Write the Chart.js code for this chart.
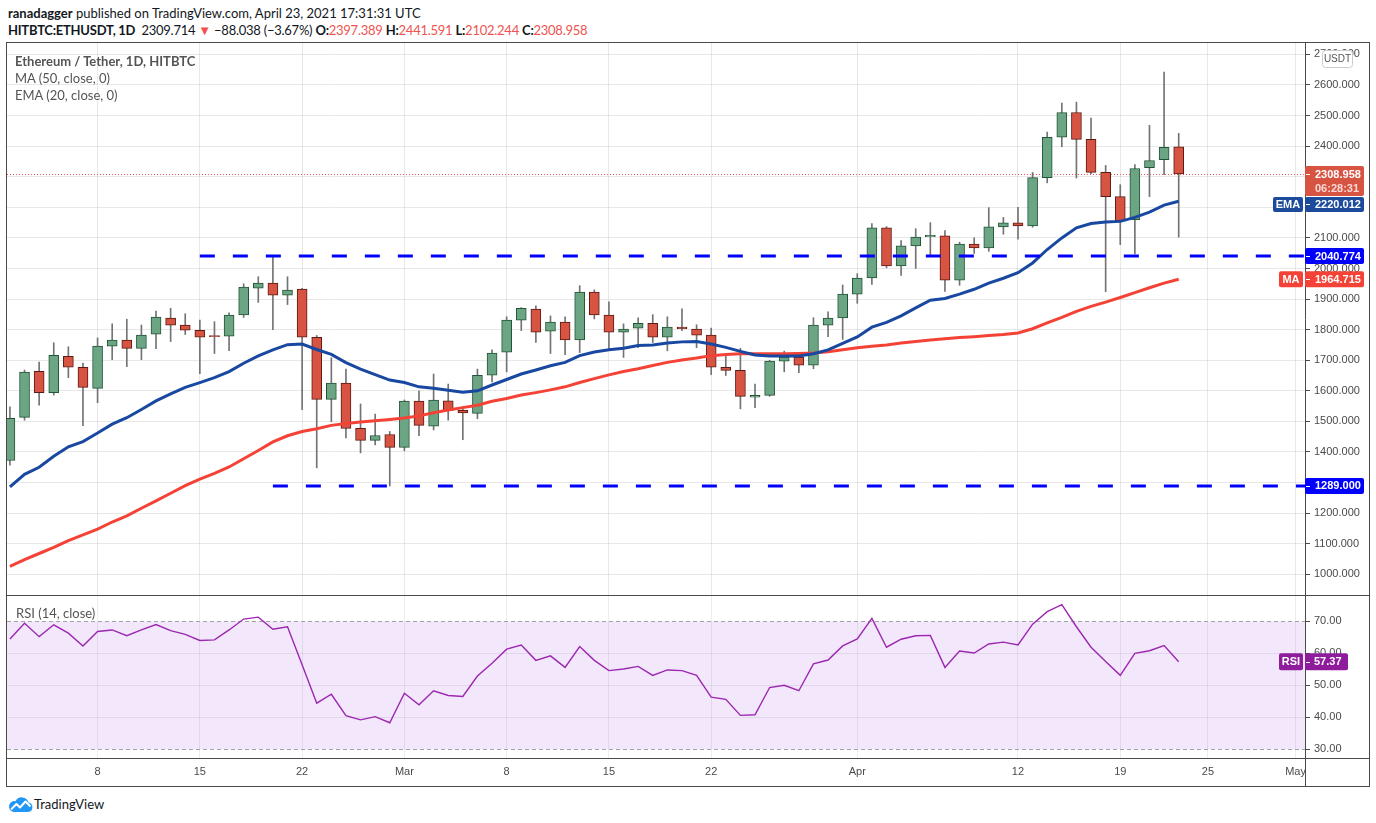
<!DOCTYPE html>
<html>
<head>
<meta charset="utf-8">
<title>Ethereum / Tether, 1D, HITBTC</title>
<script src="https://cdn.jsdelivr.net/npm/chart.js@4.4.1/dist/chart.umd.min.js"></script>
<style>
  html, body { margin:0; padding:0; background:#ffffff; }
  body { width:1376px; height:823px; position:relative; overflow:hidden; font-family: Lato, "Open Sans", sans-serif; }
  .abs { position:absolute; }
  #hdr1 { left:8px; top:4px; font-size:13px; line-height:18px; color:#131722; white-space:nowrap; }
  #hdr2 { left:8px; top:21px; font-size:13px; line-height:18px; color:#131722; white-space:nowrap; letter-spacing:-0.25px; }
  .r { color:#ef5350; }
  #frame { left:6px; top:42px; width:1362px; height:743px; border:1px solid #4a4a4a; }
  #cMain { left:7px; top:43px; }
  #cRsi { left:7px; top:596px; }
  #sep { left:7px; top:595px; width:1362px; height:1px; background:#4a4a4a; }
  #sep2 { left:7px; top:758px; width:1362px; height:1px; background:#4a4a4a; }
  #vline { left:1305px; top:758px; width:1px; height:28px; background:#4a4a4a; }
  .leg { left:15px; font-size:13px; line-height:16px; color:#555555; white-space:nowrap; }
  #logoTxt { left:34px; top:796px; font-size:13px; line-height:16px; color:#131722; white-space:nowrap; }
  #logoIcon { left:8px; top:795px; }
</style>
</head>
<body>
<div id="hdr1" class="abs"><b>ranadagger</b> published on TradingView.com, April 23, 2021 17:31:31 UTC</div>
<div id="hdr2" class="abs"><b>HITBTC:ETHUSDT, 1D</b>&nbsp; 2309.714 <span class="r">▼</span> −88.038 (−3.67%) <b>O:</b><span class="r">2397.389</span> <b>H:</b><span class="r">2441.591</span> <b>L:</b><span class="r">2102.244</span> <b>C:</b><span class="r">2308.958</span></div>

<div id="frame" class="abs"></div>
<canvas id="cMain" class="abs" width="1362" height="552" style="width:1362px;height:552px"></canvas>
<canvas id="cRsi" class="abs" width="1362" height="190" style="width:1362px;height:190px"></canvas>
<div id="sep" class="abs"></div>
<div id="sep2" class="abs"></div>
<div id="vline" class="abs"></div>

<div class="abs leg" style="top:53px;font-weight:bold;">Ethereum / Tether, 1D, HITBTC</div>
<div class="abs leg" style="top:70px;">MA (50, close, 0)</div>
<div class="abs leg" style="top:87px;">EMA (20, close, 0)</div>
<div class="abs leg" style="top:605px;left:16px;">RSI (14, close)</div>

<svg id="logoIcon" class="abs" width="25" height="18" viewBox="0 0 25 18">
  <path d="M5.5 17 H20 A4.8 4.8 0 0 0 20.5 7.5 A7 7 0 0 0 7.5 6.2 A5.4 5.4 0 0 0 5.5 17 Z" fill="#2196f3"/>
  <polyline points="3,14.5 8.5,9 12,12.5 17.5,6.5 22.5,11.5" stroke="#ffffff" stroke-width="2" fill="none" stroke-linejoin="round"/>
</svg>
<div id="logoTxt" class="abs">TradingView</div>

<script>
// ---------------- DATA ----------------
const dates = [
 '2021-02-02','2021-02-03','2021-02-04','2021-02-05','2021-02-06','2021-02-07','2021-02-08','2021-02-09','2021-02-10','2021-02-11',
 '2021-02-12','2021-02-13','2021-02-14','2021-02-15','2021-02-16','2021-02-17','2021-02-18','2021-02-19','2021-02-20','2021-02-21',
 '2021-02-22','2021-02-23','2021-02-24','2021-02-25','2021-02-26','2021-02-27','2021-02-28','2021-03-01','2021-03-02','2021-03-03',
 '2021-03-04','2021-03-05','2021-03-06','2021-03-07','2021-03-08','2021-03-09','2021-03-10','2021-03-11','2021-03-12','2021-03-13',
 '2021-03-14','2021-03-15','2021-03-16','2021-03-17','2021-03-18','2021-03-19','2021-03-20','2021-03-21','2021-03-22','2021-03-23',
 '2021-03-24','2021-03-25','2021-03-26','2021-03-27','2021-03-28','2021-03-29','2021-03-30','2021-03-31','2021-04-01','2021-04-02',
 '2021-04-03','2021-04-04','2021-04-05','2021-04-06','2021-04-07','2021-04-08','2021-04-09','2021-04-10','2021-04-11','2021-04-12',
 '2021-04-13','2021-04-14','2021-04-15','2021-04-16','2021-04-17','2021-04-18','2021-04-19','2021-04-20','2021-04-21','2021-04-22',
 '2021-04-23'];

const openP = [1372,1513,1664,1594,1713,1677,1608,1746,1766,1739,
 1785,1838,1815,1798,1780,1779,1848,1936,1952,1913,
 1933,1775,1572,1625,1477,1438,1457,1415,1566,1484,
 1567,1536,1526,1651,1726,1831,1867,1795,1825,1766,
 1923,1848,1792,1805,1821,1775,1808,1802,1782,1677,
 1667,1579,1585,1697,1710,1684,1815,1838,1916,1969,
 2133,2008,2074,2104,2107,1962,2080,2067,2136,2149,
 2139,2297,2429,2510,2422,2314,2235,2160,2330,2356,
 2397.389];
const highP = [1548,1668,1694,1757,1744,1691,1773,1819,1834,1815,
 1861,1870,1852,1831,1826,1855,1950,1973,2041,1973,
 1935,1781,1708,1671,1557,1524,1467,1570,1600,1655,
 1622,1548,1671,1734,1842,1872,1878,1845,1842,1944,
 1930,1891,1819,1839,1849,1842,1868,1816,1805,1722,
 1739,1622,1700,1730,1725,1839,1858,1946,1983,2147,
 2137,2091,2130,2150,2124,2086,2100,2199,2167,2200,
 2314,2446,2541,2544,2492,2337,2274,2340,2468,2642,
 2441.591];
const lowP = [1357,1504,1553,1586,1643,1486,1561,1702,1679,1702,
 1738,1761,1784,1656,1722,1731,1840,1889,1800,1882,
 1538,1348,1499,1446,1397,1423,1289,1404,1453,1472,
 1504,1440,1509,1629,1662,1797,1758,1722,1718,1725,
 1835,1733,1709,1741,1758,1731,1797,1741,1653,1650,
 1541,1545,1582,1662,1659,1672,1777,1768,1886,1948,
 2002,1977,2000,2040,1925,1945,2049,2056,2112,2096,
 2135,2280,2398,2296,2310,1924,2078,2048,2235,2307,
 2102.244];
const closeP = [1510,1661,1594,1716,1677,1611,1746,1766,1739,1782,
 1841,1815,1798,1775,1777,1848,1939,1952,1913,1929,
 1775,1572,1625,1477,1438,1454,1415,1566,1487,1570,
 1536,1528,1651,1723,1831,1870,1792,1825,1766,1923,
 1848,1792,1802,1821,1775,1808,1803,1782,1677,1667,
 1582,1585,1697,1710,1684,1815,1838,1916,1969,2133,
 2008,2074,2103,2108,1962,2080,2067,2136,2149,2139,
 2297,2429,2510,2422,2314,2235,2156,2327,2353,2396,
 2308.958];

const ema20 = [1286,1327,1350,1386,1417,1434,1462,1491,1512,1539,
 1567,1590,1611,1627,1643,1663,1690,1714,1734,1751,
 1753,1735,1719,1692,1671,1653,1635,1627,1613,1608,
 1602,1595,1600,1619,1637,1655,1668,1682,1693,1715,
 1727,1734,1739,1748,1750,1756,1760,1761,1753,1742,
 1729,1717,1714,1714,1714,1721,1734,1755,1776,1808,
 1824,1845,1871,1896,1902,1916,1932,1952,1968,1986,
 2018,2062,2100,2133,2147,2152,2154,2167,2184,2207,
 2220.012];
const ma50 = [1026,1048,1068,1088,1110,1129,1148,1171,1191,1216,
 1240,1265,1290,1311,1330,1351,1378,1405,1433,1453,
 1467,1476,1487,1493,1498,1502,1506,1511,1518,1528,
 1537,1545,1553,1566,1575,1586,1594,1603,1613,1627,
 1640,1652,1663,1672,1683,1693,1701,1707,1715,1719,
 1721,1721,1721,1721,1722,1724,1728,1734,1741,1746,
 1750,1756,1761,1766,1770,1774,1777,1781,1784,1789,
 1803,1822,1840,1860,1876,1890,1905,1921,1937,1952,
 1964.715];
const rsi14 = [64.5,69.4,65.2,68.9,66.3,62.3,66.8,67.3,65.5,67.3,
 69.0,67.1,65.9,64.0,64.2,67.3,70.7,71.3,67.5,68.3,
 56.4,44.4,47.2,40.5,39.2,40.2,38.3,47.5,43.9,48.3,
 46.8,46.5,52.9,56.9,61.3,62.6,57.8,59.2,55.6,62.1,
 57.8,54.6,55.1,55.9,53.1,54.8,54.6,53.1,46.3,45.6,
 40.6,40.8,49.3,50.0,48.3,56.7,57.9,62.3,64.5,70.9,
 61.9,64.4,65.5,65.6,55.6,60.7,60.1,62.9,63.5,62.6,
 69.1,73.0,75.2,68.3,61.9,57.4,53.1,60.0,60.8,62.4,
 57.37];

const levelValues = [2040.774, 1289.000];
const levelStartDay = [13, 18];
const priceTicks = [1000,1100,1200,1300,1400,1500,1600,1700,1800,1900,2000,2100,2200,2300,2400,2500,2600,2700];
const rsiTicks = [30,40,50,60,70];
const rsiBand = [70, 30];
const xTickDay = [6,13,20,27,34,41,48,58,69,76,82,88];
const xTickLabels = ['8','15','22','Mar','8','15','22','Apr','12','19','25','May'];
const countdown = '06:28:31';

// ---------------- STYLE / GEOMETRY ----------------
const N = closeP.length;
const X_MIN = -0.2, X_MAX = 88.645;
const upFill = '#6ba583', upLine = '#225437', dnFill = '#d75442', dnLine = '#5b1a13', wickCol = '#737375';
const gridCol = 'rgba(0,0,0,0.09)';
const axisCol = '#4a4a4a';
const labelFont = { family: '"Liberation Sans", Arial, sans-serif', size: 11 };
const isUp = closeP.map((c, i) => c >= openP[i]);

function rrect(ctx, x, y, w, h, r, fill, stroke) {
  ctx.beginPath(); ctx.roundRect(x, y, w, h, r);
  if (fill) { ctx.fillStyle = fill; ctx.fill(); }
  if (stroke) { ctx.strokeStyle = stroke; ctx.lineWidth = 1; ctx.stroke(); }
}
function whiteTick(ctx, x, y) {
  ctx.save(); ctx.strokeStyle = '#ffffff'; ctx.lineWidth = 1;
  ctx.beginPath(); ctx.moveTo(x + 1, Math.round(y) + 0.5); ctx.lineTo(x + 5, Math.round(y) + 0.5); ctx.stroke();
  ctx.restore();
}
function valueBox(ctx, R, top, h, color, text, name, nameW) {
  rrect(ctx, R, top, 59, h, 2, color);
  whiteTick(ctx, R, top + h / 2);
  ctx.fillStyle = '#ffffff'; ctx.textAlign = 'left';
  ctx.fillText(text, R + 10, top + h / 2 + 0.5);
  if (name) {
    rrect(ctx, R - nameW - 2, top, nameW, h, 2, color);
    ctx.textAlign = 'center'; ctx.fillStyle = '#ffffff';
    ctx.fillText(name, R - 2 - nameW / 2, top + h / 2 + 0.5);
  }
}

const mainPlugin = {
  id: 'mainPlugin',
  beforeDatasetsDraw(chart) {
    const { ctx, chartArea: a, scales: { y } } = chart;
    const py = Math.round(y.getPixelForValue(closeP[N - 1])) + 0.5;
    ctx.save();
    ctx.strokeStyle = '#ef5350'; ctx.lineWidth = 1; ctx.setLineDash([1, 2]);
    ctx.beginPath(); ctx.moveTo(a.left, py); ctx.lineTo(a.right, py); ctx.stroke();
    ctx.restore();
  },
  afterDraw(chart) {
    const { ctx, chartArea: a, scales: { y } } = chart;
    const R = a.right;
    ctx.save();
    ctx.font = 'bold 11px "Liberation Sans", Arial, sans-serif';
    ctx.textBaseline = 'middle';
    const pL = y.getPixelForValue(closeP[N - 1]);
    const tL = pL - 8;
    rrect(ctx, R, tL, 59, 30, 2, '#d75442');
    whiteTick(ctx, R, pL);
    ctx.fillStyle = '#ffffff'; ctx.textAlign = 'left';
    ctx.fillText(closeP[N - 1].toFixed(3), R + 10, pL + 0.5);
    ctx.fillStyle = 'rgba(255,255,255,0.78)';
    ctx.fillText(countdown, R + 10, pL + 15);
    const pE = y.getPixelForValue(ema20[N - 1]);
    const tE = Math.max(pE - 7.5, tL + 31);
    valueBox(ctx, R, tE, 15, '#1d4b9b', ema20[N - 1].toFixed(3), 'EMA', 30);
    const p1 = y.getPixelForValue(levelValues[0]);
    valueBox(ctx, R, p1 - 8, 16, '#0000ff', levelValues[0].toFixed(3));
    const pM = y.getPixelForValue(ma50[N - 1]);
    valueBox(ctx, R, pM - 8, 16, '#f44336', ma50[N - 1].toFixed(3), 'MA', 24);
    const p2 = y.getPixelForValue(levelValues[1]);
    valueBox(ctx, R, p2 - 8, 16, '#0000ff', levelValues[1].toFixed(3));
    rrect(ctx, R + 17.5, 7.5, 30, 17, 3, '#ffffff', '#c9cbd1');
    ctx.font = '10px "Liberation Sans", Arial, sans-serif';
    ctx.fillStyle = '#555555'; ctx.textAlign = 'center';
    ctx.fillText('USDT', R + 32.5, 16.5);
    ctx.restore();
  }
};

const rsiPlugin = {
  id: 'rsiPlugin',
  beforeDraw(chart) {
    const { ctx, chartArea: a, scales: { y } } = chart;
    const t = y.getPixelForValue(rsiBand[0]), b = y.getPixelForValue(rsiBand[1]);
    ctx.save(); ctx.fillStyle = '#f3e7fc';
    ctx.fillRect(a.left, t, a.right - a.left, b - t);
    ctx.restore();
  },
  beforeDatasetsDraw(chart) {
    const { ctx, chartArea: a, scales: { y } } = chart;
    ctx.save(); ctx.strokeStyle = '#a3a3a8'; ctx.lineWidth = 1; ctx.setLineDash([4, 3]);
    rsiBand.forEach(v => {
      const py = Math.round(y.getPixelForValue(v)) + 0.5;
      ctx.beginPath(); ctx.moveTo(a.left, py); ctx.lineTo(a.right, py); ctx.stroke();
    });
    ctx.restore();
  },
  afterDraw(chart) {
    const { ctx, chartArea: a, scales: { y } } = chart;
    const R = a.right;
    const v = rsi14[N - 1];
    const p = y.getPixelForValue(v);
    ctx.save();
    ctx.font = 'bold 11px "Liberation Sans", Arial, sans-serif';
    ctx.textBaseline = 'middle';
    rrect(ctx, R, p - 8.5, 43, 17, 2, '#8e1c9c');
    whiteTick(ctx, R, p);
    ctx.fillStyle = '#ffffff'; ctx.textAlign = 'left';
    ctx.fillText(v.toFixed(2), R + 9, p + 0.5);
    rrect(ctx, R - 26, p - 8.5, 24, 17, 2, '#8e1c9c');
    ctx.textAlign = 'center'; ctx.fillStyle = '#ffffff';
    ctx.fillText('RSI', R - 14, p + 0.5);
    ctx.restore();
  }
};

const xScaleBase = () => ({
  type: 'linear', min: X_MIN, max: X_MAX, offset: false,
  afterBuildTicks: s => { s.ticks = xTickDay.map(v => ({ value: v })); },
  ticks: { autoSkip: false, maxRotation: 0, minRotation: 0, callback: (v, i) => xTickLabels[i] },
  grid: { color: gridCol, drawTicks: false, offset: false }
});

// ---------------- MAIN CHART ----------------
const mainX = xScaleBase();
mainX.afterFit = s => { s.height = 0; s.paddingLeft = 0; s.paddingRight = 0; };
mainX.ticks.display = false;
mainX.border = { display: false };

new Chart(document.getElementById('cMain'), {
  type: 'bar',
  data: {
    datasets: [
      { type: 'line', label: 'level ' + levelValues[0], data: [{ x: levelStartDay[0], y: levelValues[0] }, { x: X_MAX, y: levelValues[0] }],
        borderColor: '#0000ff', borderWidth: 3, borderDash: [15, 18], pointRadius: 0, order: 0 },
      { type: 'line', label: 'level ' + levelValues[1], data: [{ x: levelStartDay[1], y: levelValues[1] }, { x: X_MAX, y: levelValues[1] }],
        borderColor: '#0000ff', borderWidth: 3, borderDash: [15, 18], pointRadius: 0, order: 0 },
      { type: 'line', label: 'EMA (20, close, 0)', data: ema20.map((v, i) => ({ x: i, y: v })),
        borderColor: '#1848a0', borderWidth: 3, pointRadius: 0, tension: 0, order: 1 },
      { type: 'line', label: 'MA (50, close, 0)', data: ma50.map((v, i) => ({ x: i, y: v })),
        borderColor: '#f44336', borderWidth: 3, pointRadius: 0, tension: 0, order: 1 },
      { type: 'bar', label: 'body', data: openP.map((o, i) => ({ x: i, y: [o, closeP[i]] })),
        backgroundColor: isUp.map(u => u ? upFill : dnFill), borderColor: isUp.map(u => u ? upLine : dnLine),
        borderWidth: 1, borderSkipped: false, barThickness: 10, grouped: false, minBarLength: 1, order: 2 },
      { type: 'bar', label: 'wick', data: lowP.map((l, i) => ({ x: i, y: [l, highP[i]] })),
        backgroundColor: wickCol, borderWidth: 0, barThickness: 1, grouped: false, order: 3 }
    ]
  },
  options: {
    responsive: false, maintainAspectRatio: false, animation: false,
    layout: { padding: 0 },
    plugins: { legend: { display: false }, tooltip: { enabled: false } },
    scales: {
      x: mainX,
      y: {
        position: 'right', min: 932.3, max: 2737.3, beginAtZero: false,
        afterBuildTicks: s => { s.ticks = priceTicks.map(v => ({ value: v })); },
        afterFit: s => { s.width = 64; s.paddingTop = 0; s.paddingBottom = 0; },
        ticks: { autoSkip: false, callback: v => Number(v).toFixed(3), color: axisCol, font: labelFont, padding: 4 },
        grid: { color: gridCol, drawTicks: true, tickLength: 5, tickColor: axisCol },
        border: { display: true, color: axisCol }
      }
    }
  },
  plugins: [mainPlugin]
});

// ---------------- RSI CHART ----------------
const rsiX = xScaleBase();
rsiX.afterFit = s => { s.height = 28; s.paddingLeft = 0; s.paddingRight = 0; };
rsiX.ticks.color = axisCol;
rsiX.ticks.font = labelFont;
rsiX.ticks.padding = 7;
rsiX.grid.color = 'rgba(0,0,0,0.07)';
rsiX.border = { display: true, color: axisCol };

new Chart(document.getElementById('cRsi'), {
  type: 'line',
  data: {
    datasets: [
      { label: 'RSI (14, close)', data: rsi14.map((v, i) => ({ x: i, y: v })),
        borderColor: '#9c27b0', borderWidth: 1.4, pointRadius: 0, tension: 0, fill: false }
    ]
  },
  options: {
    responsive: false, maintainAspectRatio: false, animation: false,
    layout: { padding: 0 },
    plugins: { legend: { display: false }, tooltip: { enabled: false } },
    scales: {
      x: rsiX,
      y: {
        position: 'right', min: 27.28, max: 77.906,
        afterBuildTicks: s => { s.ticks = rsiTicks.map(v => ({ value: v })); },
        afterFit: s => { s.width = 64; s.paddingTop = 0; s.paddingBottom = 0; },
        ticks: { autoSkip: false, callback: v => Number(v).toFixed(2), color: axisCol, font: labelFont, padding: 4 },
        grid: {
          color: c => (c.tick && rsiBand.includes(c.tick.value)) ? 'rgba(0,0,0,0)' : 'rgba(0,0,0,0.07)',
          drawTicks: true, tickLength: 5, tickColor: axisCol
        },
        border: { display: true, color: axisCol }
      }
    }
  },
  plugins: [rsiPlugin]
});
</script>
</body>
</html>
